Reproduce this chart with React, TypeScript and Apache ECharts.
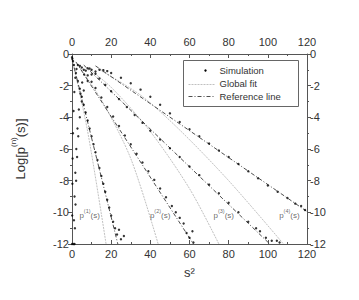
import React, { useEffect, useRef } from "react";
import * as echarts from "echarts";

// Simulation points [s^2, Log p]
const sim1: number[][] = [
  [0, -0.2], [0.2, -0.3], [0.5, -0.45], [1, -0.7], [2, -1.2], [3, -1.7], [4, -2.2], [5, -2.7],
  [6, -3.2], [7, -3.7], [8, -4.2], [9, -4.7], [10, -5.2], [11, -5.7], [12, -6.2], [13, -6.7],
  [14, -7.2], [15, -7.7], [16, -8.2], [17, -8.7], [18, -9.2], [19, -9.7], [20, -10.2],
  [21, -10.6], [22, -11.0], [23, -11.4], [24, -11.1], [25, -11.7], [26.5, -11.5],
];
const sim2: number[][] = [
  [0.05, -12], [0.1, -10.2], [0.2, -8.2], [0.3, -6.6], [0.5, -5.0], [0.8, -3.6], [1.2, -2.4],
  [1.7, -1.5], [2.3, -0.95], [3, -0.7], [4, -0.75], [5, -0.85], [6, -1.0], [8, -1.35],
  [10, -1.75], [12, -2.15], [15, -2.75], [18, -3.35], [21, -3.95], [24, -4.55], [27, -5.15],
  [30, -5.7], [33, -6.3], [36, -6.85], [39, -7.4], [42, -7.95], [45, -8.5], [48, -9.05],
  [51, -9.6], [53, -10.0], [55, -10.35], [57, -10.7], [58.5, -11.3], [60, -11.6], [61.5, -11.2],
  [62, -11.9],
];
const sim3: number[][] = [
  [0.8, -12], [1, -10.5], [1.3, -9], [1.7, -7.5], [2.2, -6], [2.8, -4.7], [3.5, -3.5],
  [4.3, -2.5], [5.2, -1.8], [6.2, -1.3], [7, -1.05], [8, -0.9], [9, -0.92], [10, -1.0],
  [12, -1.25], [14, -1.55], [17, -1.95], [20, -2.35], [24, -2.85], [28, -3.35], [32, -3.85],
  [36, -4.35], [40, -4.85], [45, -5.4], [50, -5.95], [55, -6.5], [60, -7.1], [65, -7.65],
  [70, -8.25], [75, -8.8], [80, -9.4], [85, -10.0], [90, -10.6], [94, -11.0], [96, -11.2],
  [99, -11.6], [102, -11.8], [104.6, -11.8], [106, -11.9],
];
const sim4: number[][] = [
  [1.3, -12], [1.5, -11], [1.8, -9.5], [2.1, -8], [2.6, -6.5], [3.2, -5.2], [4, -4.0],
  [5, -3.0], [6, -2.3], [8, -1.7], [10, -1.3], [12, -1.1], [14, -1.0], [16, -1.02],
  [18, -1.08], [20, -1.2], [25, -1.5], [30, -1.85], [35, -2.25], [40, -2.7], [45, -3.2],
  [50, -3.75], [55, -4.3], [60, -4.75], [65, -5.2], [70, -5.65], [75, -6.1], [80, -6.5],
  [85, -6.95], [90, -7.4], [95, -7.85], [100, -8.3], [105, -8.7], [110, -9.1], [114, -9.45],
  [117, -9.6], [119, -9.85],
];

// Global fit curves
const fit1: number[][] = [[0, -0.3], [8, -4.9], [17.4, -12]];
const fit2: number[][] = [[3, -0.7], [15, -2.9], [30, -6.6], [44, -12]];
const fit3: number[][] = [[8, -0.9], [20, -2.1], [40, -4.9], [60, -8.5], [75, -12]];
const fit4: number[][] = [[14, -1.0], [35, -2.6], [55, -4.8], [80, -8.0], [108, -12]];

// Reference lines
const ref1: number[][] = [[0, -0.3], [23.4, -12]];
const ref2: number[][] = [[2, -0.5], [62, -12]];
const ref3: number[][] = [[6, -0.7], [101, -12]];
const ref4: number[][] = [[12, -0.75], [120, -9.95]];

// Curve labels: p^(n)(s)
const labelSup = ["(1)", "(2)", "(3)", "(4)"];
const labelPos: number[][] = [[9, -10.1], [45, -10.1], [77.5, -10.1], [111, -10.1]];

const xTicks = { min: 0, max: 120, interval: 20 };
const yTicks = { min: -12, max: 0, interval: 2 };
const legendNames = ["Simulation", "Global fit", "Reference line"];

export default function App() {
  const ref = useRef<HTMLDivElement>(null);
  useEffect(() => {
    if (!ref.current) return;
    const chart = echarts.init(ref.current, undefined, { renderer: "svg" });
    const font = "Liberation Sans, Arial, sans-serif";
    const axisColor = "#555";
    const xAxisBase = {
      type: "value" as const,
      ...xTicks,
      axisLine: { show: true, onZero: false, lineStyle: { color: axisColor, width: 1 } },
      axisTick: { show: true, inside: true, length: 4, lineStyle: { color: axisColor } },
      minorTick: { show: true, splitNumber: 2, length: 2, lineStyle: { color: axisColor } },
      splitLine: { show: false },
      axisLabel: { color: "#333", fontSize: 11, fontFamily: font, margin: 4 },
    };
    const yAxisBase = {
      type: "value" as const,
      ...yTicks,
      axisLine: { show: true, onZero: false, lineStyle: { color: axisColor, width: 1 } },
      axisTick: { show: true, inside: false, length: 4, lineStyle: { color: axisColor } },
      minorTick: { show: true, splitNumber: 2, length: 2, lineStyle: { color: axisColor } },
      splitLine: { show: false },
      axisLabel: { color: "#333", fontSize: 11, fontFamily: font, margin: 3 },
    };
    const sims = [sim1, sim2, sim3, sim4];
    const fits = [fit1, fit2, fit3, fit4];
    const refs = [ref1, ref2, ref3, ref4];
    const series: any[] = [];
    fits.forEach((d) =>
      series.push({
        type: "line", data: d, showSymbol: false, smooth: 0.3,
        lineStyle: { color: "#b0b0b0", width: 0.8, type: [2, 1] }, z: 1,
      })
    );
    refs.forEach((d) =>
      series.push({
        type: "line", data: d, showSymbol: false,
        lineStyle: { color: "#222", width: 0.8, type: [4, 2, 1, 2] }, z: 2,
      })
    );
    sims.forEach((d) =>
      series.push({
        type: "scatter", data: d, symbolSize: 2.4,
        itemStyle: { color: "#000" }, z: 3,
      })
    );
    series.push({
      type: "scatter",
      data: labelPos.map((p, i) => ({ value: p, name: labelSup[i] })),
      symbolSize: 0,
      label: {
        show: true, position: "inside",
        formatter: (p: any) => "{b|p}{s|" + p.name + "}{b|(s)}",
        rich: {
          b: { fontSize: 8, fontFamily: font, color: "#444", lineHeight: 12, verticalAlign: "bottom" },
          s: { fontSize: 5.5, fontFamily: font, color: "#444", lineHeight: 12, verticalAlign: "top" },
        },
      },
      z: 4,
    });
    chart.setOption({
      animation: false,
      backgroundColor: "#fff",
      grid: { left: 72, right: 52, top: 54, bottom: 56, containLabel: false },
      xAxis: [
        { ...xAxisBase, position: "bottom", name: "s²", nameLocation: "middle", nameGap: 22,
          nameTextStyle: { fontSize: 13, color: "#333", fontFamily: font } },
        { ...xAxisBase, position: "top", axisLabel: { ...xAxisBase.axisLabel, margin: 7 } },
      ],
      yAxis: [
        { ...yAxisBase, position: "left", name: "{b|Log[p}{s|(n)}{b|(s)]}", nameLocation: "middle", nameGap: 45,
          nameRotate: 90,
          nameTextStyle: {
            color: "#333", fontFamily: font,
            rich: {
              b: { fontSize: 13, fontFamily: font, color: "#333", lineHeight: 18, verticalAlign: "bottom" },
              s: { fontSize: 8, fontFamily: font, color: "#333", lineHeight: 18, verticalAlign: "top" },
            },
          } },
        { ...yAxisBase, position: "right" },
      ],
      series,
      graphic: [
        {
          type: "group", left: 183, top: 60,
          children: [
            { type: "rect", shape: { x: 0, y: 0, width: 115, height: 46 },
              style: { fill: "#fff", stroke: "#666", lineWidth: 1 } },
            { type: "circle", shape: { cx: 22, cy: 10, r: 1.2 }, style: { fill: "#000" } },
            { type: "line", shape: { x1: 5, y1: 24, x2: 32, y2: 24 },
              style: { stroke: "#b0b0b0", lineWidth: 0.8, lineDash: [2, 1] } },
            { type: "line", shape: { x1: 5, y1: 36, x2: 32, y2: 36 },
              style: { stroke: "#222", lineWidth: 0.8, lineDash: [4, 2, 1, 2] } },
            { type: "text", x: 36, y: 10, style: { text: legendNames[0], fontSize: 9.5, fontFamily: font, fill: "#333", verticalAlign: "middle" } },
            { type: "text", x: 36, y: 23, style: { text: legendNames[1], fontSize: 9.5, fontFamily: font, fill: "#333", verticalAlign: "middle" } },
            { type: "text", x: 36, y: 36, style: { text: legendNames[2], fontSize: 9.5, fontFamily: font, fill: "#333", verticalAlign: "middle" } },
          ],
        },
      ],
    });
    return () => chart.dispose();
  }, []);
  return <div ref={ref} style={{ position: "absolute", left: 0, top: 0, width: 359, height: 300 }} />;
}
